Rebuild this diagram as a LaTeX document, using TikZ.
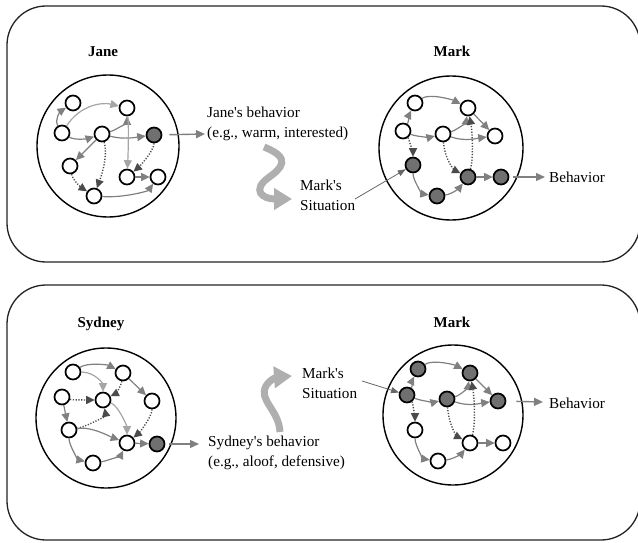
\documentclass[tikz,border=0pt]{standalone}
\usepackage{fontspec}
\setmainfont{Liberation Serif}[Ligatures=TeXOff]
\usetikzlibrary{arrows.meta}
\definecolor{dkfill}{RGB}{112,112,112}
\definecolor{eg}{RGB}{128,128,128}
\definecolor{lg}{RGB}{165,165,165}
\definecolor{dg}{RGB}{75,75,75}
\definecolor{bigc}{RGB}{175,175,175}
\definecolor{framec}{RGB}{35,35,35}
\begin{document}
\begin{tikzpicture}[x=1pt,y=-1pt,
 nd/.style={circle,draw=black,line width=1.7pt,fill=white,minimum size=15pt,inner sep=0pt},
 dk/.style={nd,fill=dkfill},
 ring/.style={circle,draw=black,line width=1.4pt,inner sep=0pt},
 arrtip/.style={-{Triangle[length=8.5pt,width=8pt]}},
 ed/.style={draw=eg,line width=1.2pt,arrtip},
 edl/.style={draw=lg,line width=1.2pt,arrtip},
 edt/.style={draw=dg,line width=1.4pt,dash pattern=on 1.2pt off 1.6pt,arrtip},
 outarr/.style={draw=eg,line width=1.4pt,-{Triangle[length=9pt,width=8pt]}},
 ptr/.style={draw=eg!80!black,line width=0.8pt,-{Triangle[length=8pt,width=6pt]}},
 bigarr/.style={draw=bigc,line width=7pt,-{Triangle[length=18pt,width=21pt]}},
 txt/.style={font=\fontsize{15.2}{20}\selectfont,inner sep=0pt,align=left,anchor=north west},
 ttl/.style={font=\fontsize{15}{18}\selectfont\bfseries,inner sep=0pt,anchor=base},
 panel/.style={draw=framec,line width=1.3pt,rounded corners=39pt}]
\clip (0,0) rectangle (638,543);
\draw[panel] (7,6) rectangle (640,262);
\draw[panel] (7,285) rectangle (640,540);

% rings
\node[ring,minimum size=142pt] (RJ) at (108,146) {};
\node[ring,minimum size=144pt] (RM1) at (451,148) {};
\node[ring,minimum size=140pt] (RS) at (106,418) {};
\node[ring,minimum size=140pt] (RM2) at (453,415) {};

% titles
\node[ttl] (tJ) at (103,57) {Jane};
\node[ttl] (tM1) at (452,57) {Mark};
\node[ttl] (tS) at (101,327) {Sydney};
\node[ttl] (tM2) at (452,327) {Mark};

% Jane
\node[nd] (J1) at (73,103) {};
\node[nd] (J2) at (127,108) {};
\node[nd] (J3) at (62,133) {};
\node[nd] (J4) at (102,134) {};
\node[dk] (J5) at (154,135) {};
\node[nd] (J6) at (70,166) {};
\node[nd] (J7) at (127,177) {};
\node[nd] (J8) at (158,177) {};
\node[nd] (J9) at (94,196) {};

% Mark top
\node[nd] (M1) at (415,103) {};
\node[nd] (M2) at (468,108) {};
\node[nd] (M3) at (403,131) {};
\node[nd] (M4) at (443,134) {};
\node[nd] (M5) at (495,136) {};
\node[dk] (M6) at (413,165) {};
\node[dk] (M7) at (468,177) {};
\node[dk] (M8) at (501,177) {};
\node[dk] (M9) at (437,196) {};

% Sydney
\node[nd] (S1) at (73,372) {};
\node[nd] (S2) at (123,373) {};
\node[nd] (S3) at (62,397) {};
\node[nd] (S4) at (103,400) {};
\node[nd] (S5) at (152,401) {};
\node[nd] (S6) at (69,430) {};
\node[nd] (S7) at (127,443) {};
\node[dk] (S8) at (157,444) {};
\node[nd] (S9) at (93,463) {};

% Mark bottom
\node[dk] (N1) at (418,369) {};
\node[dk] (N2) at (470,373) {};
\node[dk] (N3) at (407,395) {};
\node[dk] (N4) at (447,399) {};
\node[dk] (N5) at (498,401) {};
\node[nd] (N6) at (415,430) {};
\node[nd] (N7) at (470,443) {};
\node[nd] (N8) at (503,443) {};
\node[nd] (N9) at (438,461) {};

% Jane edges
\draw[ed] (J3) .. controls +(-8,-14) and +(-12,8) .. (J1);
\draw[edl] (J3) .. controls +(18,-28) and +(-25,-6) .. (J2);
\draw[ed] (J3) .. controls +(14,8) and +(-12,4) .. (J4);
\draw[ed] (J4) .. controls +(14,-4) and +(0,14) .. (J2);
\draw[ed] (J4) .. controls +(22,6) and +(-16,2) .. (J5);
\draw[ed] (J4) -- (J6);
\draw[edt] (J4) .. controls +(6,22) and +(8,-22) .. (J9);
\draw[edl] (J2) .. controls +(2,20) and +(1,-20) .. (J7);
\draw[edt] (J5) .. controls +(0,16) and +(12,-10) .. (J7);
\draw[edt] (J6) .. controls +(3,15) and +(-12,-8) .. (J9);
\draw[ed] (J7) -- (J8);
\draw[ed] (J9) .. controls +(30,2) and +(-10,14) .. (J8);

% Mark top edges
\draw[ed] (M1) .. controls +(15,-10) and +(-15,-8) .. (M2);
\draw[ed] (M3) .. controls +(5,-8) and +(-4,8) .. (M1);
\draw[ed] (M3) .. controls +(14,6) and +(-12,3) .. (M4);
\draw[edt] (M3) .. controls +(6,8) and +(0,-10) .. (M6);
\draw[ed] (M4) .. controls +(14,-4) and +(-2,14) .. (M2);
\draw[ed] (M4) .. controls +(22,8) and +(-16,2) .. (M5);
\draw[ed] (M2) -- (M5);
\draw[edt] (M4) .. controls +(2,28) and +(-12,-6) .. (M7);
\draw[edt] (M7) .. controls +(6,-20) and +(4,22) .. (M2);
\draw[ed] (M6) .. controls +(0,16) and +(-14,-2) .. (M9);
\draw[ed] (M9) .. controls +(16,-2) and +(-8,10) .. (M7);
\draw[ed] (M7) -- (M8);

% Sydney edges
\draw[ed] (S1) .. controls +(15,-10) and +(-15,-8) .. (S2);
\draw[edl] (S1) .. controls +(22,0) and +(0,-16) .. (S4);
\draw[edt] (S3) .. controls +(10,3) and +(-12,0) .. (S4);
\draw[edt] (S2) .. controls +(-2,14) and +(12,-6) .. (S4);
\draw[ed] (S2) -- (S5);
\draw[edt] (S6) .. controls +(16,-3) and +(3,16) .. (S4);
\draw[edl] (S4) .. controls +(16,6) and +(0,-16) .. (S7);
\draw[ed] (S3) -- (S6);
\draw[ed] (S6) .. controls +(22,-4) and +(-16,-6) .. (S7);
\draw[edt] (S5) .. controls +(0,16) and +(12,-10) .. (S7);
\draw[ed] (S6) .. controls +(0,16) and +(-14,-3) .. (S9);
\draw[ed] (S9) .. controls +(14,-2) and +(-6,12) .. (S7);
\draw[ed] (S7) -- (S8);

% Mark bottom edges
\draw[ed] (N1) .. controls +(15,-10) and +(-15,-8) .. (N2);
\draw[ed] (N3) .. controls +(5,-8) and +(-4,8) .. (N1);
\draw[ed] (N3) .. controls +(14,6) and +(-12,3) .. (N4);
\draw[edt] (N3) .. controls +(6,8) and +(0,-10) .. (N6);
\draw[ed] (N4) .. controls +(14,-4) and +(-2,14) .. (N2);
\draw[ed] (N4) .. controls +(22,8) and +(-16,2) .. (N5);
\draw[ed] (N2) -- (N5);
\draw[edt] (N4) .. controls +(2,28) and +(-12,-6) .. (N7);
\draw[edt] (N7) .. controls +(6,-20) and +(4,22) .. (N2);
\draw[ed] (N6) .. controls +(0,16) and +(-14,-2) .. (N9);
\draw[ed] (N9) .. controls +(16,-2) and +(-8,10) .. (N7);
\draw[ed] (N7) -- (N8);

% outputs
\coordinate (jo) at (205,134);
\draw[outarr,shorten <=7pt] (J5) -- (jo);
\coordinate (mo1) at (545,177);
\draw[outarr,shorten <=4pt] (M8) -- (mo1);
\coordinate (so) at (199,444);
\draw[outarr,shorten <=4pt] (S8) -- (so);
\coordinate (mo2) at (543,402);
\draw[outarr,shorten <=10pt] (N5) -- (mo2);

% texts
\node[txt] (jb) at (207,107) {Jane's behavior\\(e.g., warm, interested)};
\node[txt] (ms1) at (300,180) {Mark's\\Situation};
\node[txt] (b1) at (549,172) {Behavior};
\node[txt] (sb) at (208,436) {Sydney's behavior\\(e.g., aloof, defensive)};
\node[txt] (ms2) at (302,368) {Mark's\\Situation};
\node[txt] (b2) at (549,398) {Behavior};

% pointers
\coordinate (p1) at (355,199);
\draw[ptr] (p1) -- (M6);
\coordinate (p2) at (362,381);
\draw[ptr] (p2) -- (N3);

% big arrows
\coordinate (a1s) at (264,147);
\coordinate (a1e) at (292,199);
\draw[bigarr] (a1s) .. controls (292,158) and (282,168) .. (268,178) .. controls (252,190) and (262,199) .. (a1e);
\coordinate (a2s) at (280,432);
\coordinate (a2e) at (292,376);
\draw[bigarr] (a2s) .. controls (279,410) and (258,400) .. (266,386) .. controls (270,379) and (278,377) .. (a2e);
\end{tikzpicture}
\end{document}
